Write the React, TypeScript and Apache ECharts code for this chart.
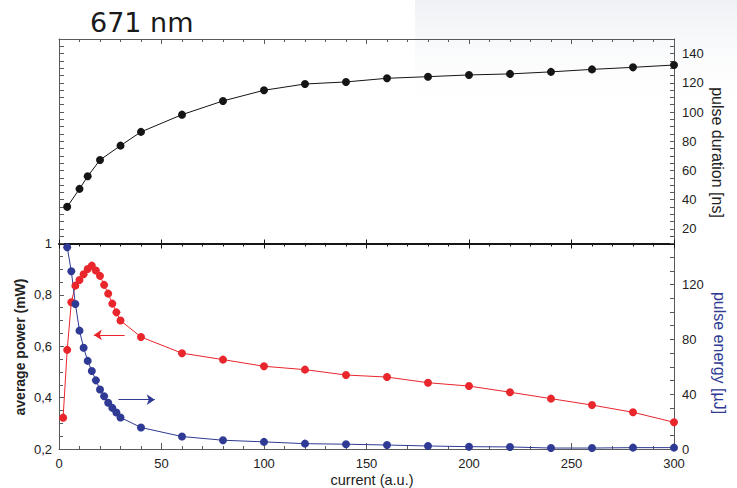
import React, { useEffect, useRef } from "react";
import * as echarts from "echarts";

// ---- data ----
const currentTop = [4, 10, 14, 20, 30, 40, 60, 80, 100, 120, 140, 160, 180, 200, 220, 240, 260, 280, 300];
const pulseDuration = [35.1, 47.4, 56.0, 67.2, 77.0, 86.4, 98.2, 107.6, 114.9, 119.2, 120.6, 123.1, 124.2, 125.4, 126.1, 127.5, 129.2, 130.6, 132.2];

const currentPower = [2, 4, 6, 8, 10, 12, 14, 16, 18, 20, 22, 24, 26, 28, 30, 40, 60, 80, 100, 120, 140, 160, 180, 200, 220, 240, 260, 280, 300];
const averagePower = [0.322, 0.586, 0.771, 0.836, 0.858, 0.88, 0.901, 0.914, 0.895, 0.874, 0.839, 0.805, 0.766, 0.732, 0.7, 0.636, 0.573, 0.548, 0.522, 0.509, 0.488, 0.48, 0.458, 0.445, 0.421, 0.396, 0.371, 0.343, 0.304];

const currentEnergy = [4, 6, 8, 10, 12, 14, 16, 18, 20, 22, 24, 26, 28, 30, 40, 60, 80, 100, 120, 140, 160, 180, 200, 220, 240, 260, 280, 300];
const pulseEnergy = [147.3, 129.8, 105.8, 86.4, 73.9, 64.3, 56.9, 50.1, 43.4, 38.5, 33.7, 30.0, 26.7, 23.0, 15.7, 9.1, 6.4, 5.2, 3.9, 3.5, 2.9, 2.2, 1.7, 1.5, 0.7, 0.7, 1.0, 1.0];

// annotation arrows [fromX, toX, y]
const powerArrow = [32, 17, 0.644];
const energyArrow = [29, 46.7, 36];

const xTicks = [0, 50, 100, 150, 200, 250, 300];

const RED = "#e8262b";
const BLUE = "#2e3a93";
const BLACK = "#151515";
const FRAME = "#5a5a5a";
const LABEL_FONT = "Liberation Sans, Arial, sans-serif";

export default function App() {
  const ref = useRef<HTMLDivElement>(null);

  useEffect(() => {
    document.body.style.margin = "0";
    const chart = echarts.init(ref.current!, null, { renderer: "svg" });

    const zip = (xs: number[], ys: number[]) => xs.map((x, i) => [x, ys[i]]);

    const labelStyle = { color: "#222", fontSize: 13, fontFamily: LABEL_FONT };

    const option: any = {
      animation: false,
      backgroundColor: "#fff",
      grid: [
        { left: 59, top: 39, width: 615, height: 204.5 },
        { left: 59, top: 243.5, width: 615, height: 205.5 },
      ],
      xAxis: [
        {
          gridIndex: 0, type: "value", position: "top", min: 0, max: 300, interval: 50,
          axisLine: { show: true, onZero: false, lineStyle: { color: FRAME, width: 1 } },
          axisTick: { show: true, inside: true, length: 5, lineStyle: { color: FRAME } },
          minorTick: { show: true, splitNumber: 5, length: 3, lineStyle: { color: FRAME } },
          axisLabel: { show: false }, splitLine: { show: false },
        },
        {
          gridIndex: 0, type: "value", position: "bottom", min: 0, max: 300, interval: 50,
          axisLine: { show: false, onZero: false },
          axisTick: { show: true, inside: true, length: 4, lineStyle: { color: BLACK } },
          axisLabel: { show: false }, splitLine: { show: false },
        },
        {
          gridIndex: 1, type: "value", position: "top", min: 0, max: 300, interval: 50,
          axisLine: { show: true, onZero: false, lineStyle: { color: BLACK, width: 2 } },
          axisTick: { show: true, inside: true, length: 5, lineStyle: { color: BLACK } },
          minorTick: { show: true, splitNumber: 5, length: 3, lineStyle: { color: BLACK } },
          axisLabel: { show: false }, splitLine: { show: false },
        },
        {
          gridIndex: 1, type: "value", position: "bottom", min: 0, max: 300, interval: 50,
          axisLine: { show: true, onZero: false, lineStyle: { color: FRAME, width: 1 } },
          axisTick: { show: true, inside: true, length: 6, lineStyle: { color: FRAME } },
          minorTick: { show: true, splitNumber: 5, length: 3, lineStyle: { color: FRAME } },
          axisLabel: {
            ...labelStyle, margin: 8,
            formatter: (v: number) => (xTicks.includes(v) ? String(v) : ""),
          },
          splitLine: { show: false },
        },
      ],
      yAxis: [
        {
          gridIndex: 0, type: "value", position: "right", min: 10, max: 150, interval: 5,
          axisLine: { show: true, onZero: false, lineStyle: { color: FRAME } },
          axisTick: { show: true, inside: true, length: 4, lineStyle: { color: FRAME } },
          axisLabel: {
            ...labelStyle, margin: 8,
            formatter: (v: number) => (v % 20 === 0 ? String(v) : ""),
          },
          splitLine: { show: false },
        },
        {
          gridIndex: 0, type: "value", position: "left", min: 10, max: 150, interval: 5,
          axisLine: { show: true, onZero: false, lineStyle: { color: FRAME } },
          axisTick: { show: true, inside: true, length: 5, lineStyle: { color: FRAME } },
          axisLabel: { show: false }, splitLine: { show: false },
        },
        {
          gridIndex: 1, type: "value", position: "left", min: 0.2, max: 1, interval: 0.2,
          axisLine: { show: true, onZero: false, lineStyle: { color: FRAME } },
          axisTick: { show: true, inside: true, length: 5, lineStyle: { color: FRAME } },
          minorTick: { show: true, splitNumber: 4, length: 4, lineStyle: { color: FRAME } },
          axisLabel: {
            ...labelStyle, margin: 7,
            formatter: (v: number) => {
              const r = Math.round(v * 10) / 10;
              return r === 1 ? "1" : r.toFixed(1).replace(".", ",");
            },
          },
          splitLine: { show: false },
        },
        {
          gridIndex: 1, type: "value", position: "right", min: 0, max: 150, interval: 10,
          axisLine: { show: true, onZero: false, lineStyle: { color: FRAME } },
          axisTick: { show: true, inside: true, length: 4, lineStyle: { color: FRAME } },
          axisLabel: {
            ...labelStyle, margin: 8,
            formatter: (v: number) => (v % 40 === 0 ? String(v) : ""),
          },
          splitLine: { show: false },
        },
      ],
      series: [
        {
          type: "line", xAxisIndex: 0, yAxisIndex: 0,
          data: zip(currentTop, pulseDuration),
          symbol: "circle", symbolSize: 8,
          lineStyle: { color: BLACK, width: 1 }, itemStyle: { color: BLACK },
          clip: false,
        },
        {
          type: "line", xAxisIndex: 3, yAxisIndex: 2,
          data: zip(currentPower, averagePower),
          symbol: "circle", symbolSize: 8,
          lineStyle: { color: RED, width: 1 }, itemStyle: { color: RED },
          markLine: {
            silent: true, symbol: ["none", "arrow"], symbolSize: 8,
            label: { show: false },
            lineStyle: { color: RED, width: 1, type: "solid" },
            data: [[{ coord: [powerArrow[0], powerArrow[2]] }, { coord: [powerArrow[1], powerArrow[2]] }]],
          },
        },
        {
          type: "line", xAxisIndex: 3, yAxisIndex: 3,
          data: zip(currentEnergy, pulseEnergy),
          symbol: "circle", symbolSize: 8,
          lineStyle: { color: BLUE, width: 1 }, itemStyle: { color: BLUE },
          markLine: {
            silent: true, symbol: ["none", "arrow"], symbolSize: 8,
            label: { show: false },
            lineStyle: { color: BLUE, width: 1, type: "solid" },
            data: [[{ coord: [energyArrow[0], energyArrow[2]] }, { coord: [energyArrow[1], energyArrow[2]] }]],
          },
        },
      ],
      graphic: [
        {
          type: "rect", z: -10, silent: true,
          shape: { x: 415, y: 0, width: 322, height: 120 },
          style: {
            fill: new echarts.graphic.LinearGradient(0, 0, 0, 1, [
              { offset: 0, color: "rgba(228,232,238,0.6)" },
              { offset: 1, color: "rgba(255,255,255,0)" },
            ]),
          },
        },
        {
          type: "text", x: 90, y: 22, silent: true,
          style: {
            text: "671 nm", fill: "#1a1a1a", fontSize: 27,
            fontFamily: "DejaVu Sans, sans-serif", align: "left", verticalAlign: "middle",
          },
        },
        {
          type: "text", x: 717, y: 152.5, rotation: -Math.PI / 2, silent: true,
          style: {
            text: "pulse duration [ns]", fill: "#222", fontSize: 16,
            fontFamily: LABEL_FONT, align: "center", verticalAlign: "middle",
          },
        },
        {
          type: "text", x: 719, y: 353, rotation: -Math.PI / 2, silent: true,
          style: {
            text: "pulse energy [µJ]", fill: BLUE, fontSize: 16,
            fontFamily: LABEL_FONT, align: "center", verticalAlign: "middle",
          },
        },
        {
          type: "text", x: 20, y: 347, rotation: Math.PI / 2, silent: true,
          style: {
            text: "average power (mW)", fill: "#222", fontSize: 14, fontWeight: "bold",
            fontFamily: LABEL_FONT, align: "center", verticalAlign: "middle",
          },
        },
        {
          type: "text", x: 372, y: 480, silent: true,
          style: {
            text: "current (a.u.)", fill: "#222", fontSize: 14.5,
            fontFamily: LABEL_FONT, align: "center", verticalAlign: "middle",
          },
        },
      ],
    };

    chart.setOption(option);
    return () => chart.dispose();
  }, []);

  return <div ref={ref} style={{ width: 737, height: 488 }} />;
}
